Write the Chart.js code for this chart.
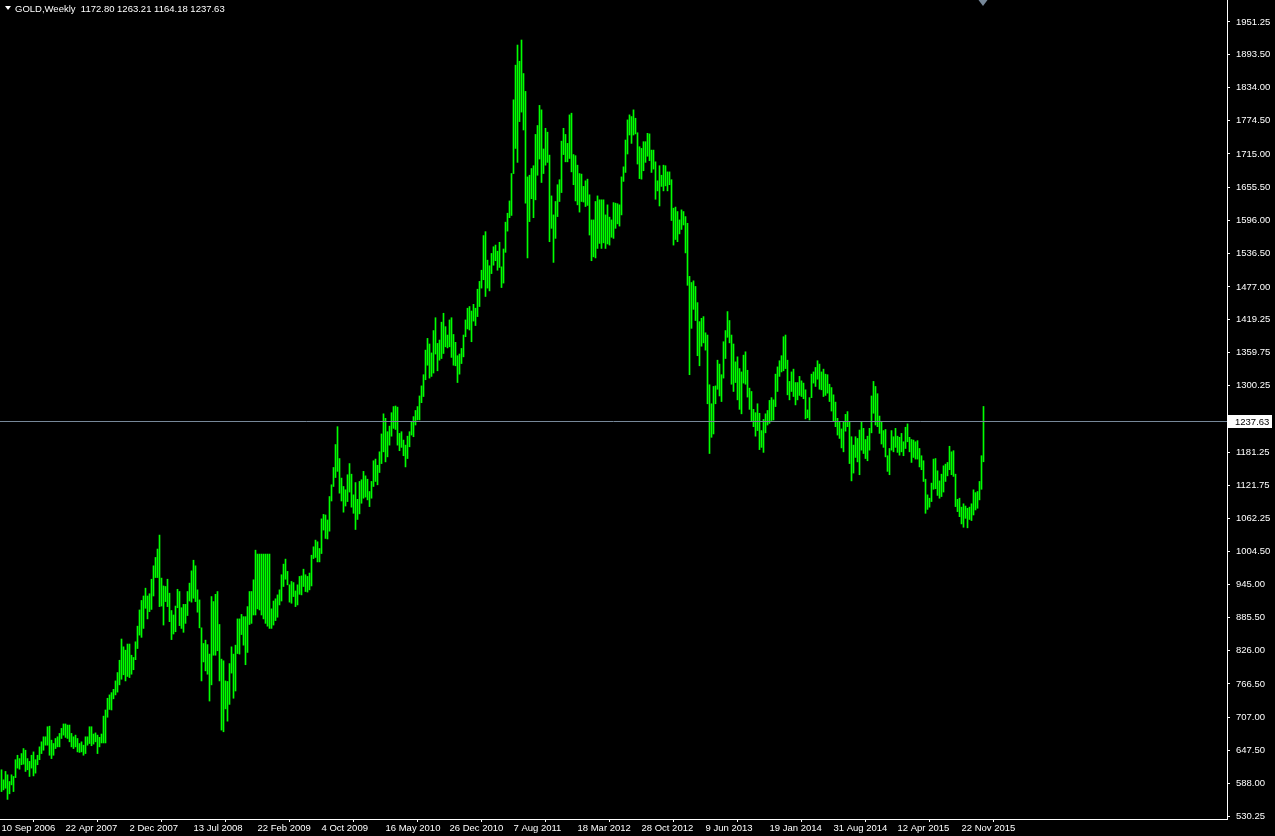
<!DOCTYPE html>
<html>
<head>
<meta charset="utf-8">
<script src="https://cdn.jsdelivr.net/npm/chart.js@4.4.0/dist/chart.umd.min.js"></script>
<style>
  html, body { margin: 0; padding: 0; background: #000; }
  canvas { display: block; }
</style>
</head>
<body>
<canvas id="chart" width="1275" height="836"></canvas>
<script>
const symbolName = "GOLD,Weekly";
// last (current) weekly bar: open, high, low, close
const lastBar = [1172.80, 1263.21, 1164.18, 1237.63];

// weekly highs, one per bar, starting with the week of 10 Sep 2006
const highs = [
  613,595,610,604,592,604,601,631,639,633,
  642,651,648,633,628,639,645,631,639,654,
  663,672,672,690,691,666,660,669,672,678,
  687,695,695,693,693,678,672,675,669,660,
  663,657,672,672,690,690,677,679,675,671,
  677,709,720,741,747,751,757,772,787,809,
  847,833,827,838,838,818,814,842,870,899,
  916,924,938,924,928,954,978,993,1008,1033,
  956,942,941,954,929,898,890,906,936,932,
  903,909,909,932,947,969,988,978,935,917,
  867,839,845,837,820,923,914,927,932,873,
  811,808,772,771,803,833,820,836,883,883,
  891,887,887,905,932,932,953,1006,999,999,
  999,999,999,999,999,901,915,919,926,935,
  962,981,990,968,944,950,948,933,944,959,
  960,972,962,959,965,997,1012,1024,1021,1009,
  1062,1070,1069,1060,1102,1123,1154,1195,1227,1170,
  1135,1120,1114,1141,1161,1142,1105,1127,1097,1129,
  1132,1147,1139,1133,1111,1129,1166,1169,1158,1182,
  1214,1250,1242,1218,1228,1252,1263,1264,1262,1215,
  1218,1203,1194,1210,1218,1236,1245,1256,1263,1282,
  1300,1320,1364,1385,1375,1359,1399,1422,1376,1382,
  1414,1430,1406,1391,1418,1422,1392,1378,1354,1357,
  1367,1391,1418,1439,1442,1434,1446,1439,1473,1487,
  1507,1569,1576,1525,1515,1537,1549,1552,1541,1557,
  1513,1545,1593,1609,1631,1680,1812,1874,1910,1881,
  1919,1859,1827,1674,1677,1689,1694,1750,1766,1802,
  1794,1724,1761,1754,1713,1640,1606,1630,1660,1669,
  1738,1761,1750,1734,1785,1788,1714,1712,1695,1680,
  1679,1657,1667,1670,1642,1597,1597,1630,1640,1633,
  1633,1633,1606,1624,1602,1597,1628,1627,1626,1624,
  1674,1692,1740,1776,1785,1782,1794,1779,1753,1728,
  1725,1737,1737,1752,1751,1722,1722,1701,1667,1694,
  1677,1695,1694,1683,1683,1669,1618,1620,1612,1597,
  1615,1612,1603,1591,1496,1485,1488,1478,1449,1415,
  1421,1424,1395,1391,1302,1268,1299,1300,1346,1339,
  1320,1379,1399,1433,1417,1391,1375,1343,1352,1331,
  1325,1355,1361,1328,1296,1290,1258,1252,1268,1251,
  1220,1240,1250,1256,1274,1279,1275,1321,1334,1345,
  1354,1388,1391,1346,1308,1325,1330,1306,1306,1317,
  1309,1305,1293,1257,1279,1321,1325,1333,1345,1339,
  1325,1330,1321,1320,1303,1297,1284,1271,1242,1235,
  1223,1235,1249,1254,1236,1209,1194,1209,1206,1221,
  1236,1224,1204,1210,1224,1282,1308,1299,1286,1246,
  1236,1220,1222,1175,1188,1220,1209,1224,1210,1208,
  1215,1200,1226,1232,1208,1204,1203,1200,1202,1188,
  1175,1166,1133,1105,1099,1126,1169,1170,1148,1130,
  1142,1157,1160,1163,1192,1182,1184,1142,1097,1099,
  1083,1089,1085,1081,1083,1089,1114,1109,1111,1129,
  1175,1263.21
];

// weekly lows, same weeks
const lows = [
  574,577,580,560,570,586,574,599,616,614,
  622,623,610,613,601,616,602,607,622,631,
  642,648,657,657,639,633,639,651,654,654,
  669,675,671,669,663,654,651,654,645,644,
  645,639,642,657,660,656,659,663,642,654,
  661,661,661,707,721,720,740,747,752,765,
  775,783,772,780,778,784,792,810,830,854,
  850,866,902,883,896,900,924,957,957,905,
  906,872,914,905,878,846,856,860,903,871,
  866,859,875,889,915,913,920,914,895,867,
  772,806,790,784,736,765,818,818,826,772,
  684,681,722,700,730,786,741,754,821,820,
  855,836,801,823,873,875,890,890,901,899,
  890,883,875,870,866,866,872,880,886,908,
  915,941,954,944,913,911,923,905,908,927,
  926,941,932,931,935,942,991,993,985,985,
  1000,1042,1027,1026,1040,1094,1120,1136,1147,1108,
  1094,1074,1085,1093,1110,1083,1072,1043,1061,1071,
  1090,1099,1101,1096,1084,1099,1120,1129,1123,1145,
  1161,1182,1164,1173,1194,1210,1224,1222,1194,1184,
  1190,1175,1155,1170,1191,1212,1209,1230,1239,1239,
  1270,1281,1311,1337,1314,1317,1323,1357,1327,1346,
  1349,1358,1370,1368,1370,1351,1337,1336,1306,1321,
  1340,1352,1388,1402,1400,1379,1416,1408,1424,1442,
  1475,1490,1460,1475,1470,1501,1516,1524,1507,1512,
  1476,1484,1539,1577,1601,1605,1680,1725,1700,1773,
  1790,1758,1627,1529,1594,1635,1601,1633,1677,1706,
  1664,1680,1695,1700,1558,1582,1521,1564,1603,1630,
  1646,1714,1701,1701,1707,1683,1660,1631,1624,1611,
  1630,1629,1621,1623,1570,1524,1531,1529,1546,1555,
  1546,1556,1546,1554,1552,1566,1564,1582,1590,1586,
  1606,1666,1682,1715,1749,1734,1749,1751,1697,1671,
  1670,1685,1700,1711,1703,1682,1688,1634,1649,1622,
  1657,1649,1658,1649,1660,1596,1552,1562,1558,1572,
  1580,1588,1538,1480,1320,1403,1437,1417,1354,1336,
  1371,1377,1364,1268,1179,1208,1214,1268,1294,1282,
  1272,1314,1349,1387,1377,1303,1290,1306,1275,1258,
  1250,1305,1303,1280,1258,1236,1227,1210,1220,1186,
  1190,1181,1216,1230,1233,1238,1239,1263,1290,1317,
  1325,1327,1331,1284,1275,1290,1281,1266,1275,1283,
  1281,1277,1241,1243,1239,1279,1305,1299,1312,1294,
  1293,1281,1283,1287,1272,1255,1237,1227,1212,1206,
  1189,1182,1219,1227,1161,1130,1144,1172,1164,1141,
  1185,1179,1170,1166,1185,1216,1251,1230,1227,1215,
  1196,1190,1173,1147,1141,1185,1182,1190,1181,1176,
  1182,1175,1188,1200,1182,1163,1172,1169,1169,1155,
  1150,1129,1072,1079,1083,1093,1115,1116,1104,1099,
  1102,1110,1129,1139,1150,1141,1138,1084,1075,1066,
  1053,1047,1063,1046,1061,1059,1069,1078,1081,1096,
  1115,1164.18
];

// time axis labels, one every 32 weeks
const dateLabels = [
  "10 Sep 2006", "22 Apr 2007", "2 Dec 2007", "13 Jul 2008", "22 Feb 2009",
  "4 Oct 2009", "16 May 2010", "26 Dec 2010", "7 Aug 2011", "18 Mar 2012",
  "28 Oct 2012", "9 Jun 2013", "19 Jan 2014", "31 Aug 2014", "12 Apr 2015",
  "22 Nov 2015"
];
const weeksPerLabel = 32;

// price axis labels
const priceTicks = [
  1951.25, 1893.50, 1834.00, 1774.50, 1715.00, 1655.50, 1596.00, 1536.50,
  1477.00, 1419.25, 1359.75, 1300.25, 1181.25, 1121.75, 1062.25, 1004.50,
  945.00, 885.50, 826.00, 766.50, 707.00, 647.50, 588.00, 530.25
];

const barColor = '#00ff00';
const fgColor = '#ffffff';
const bidColor = '#778899';
const axisFont = { family: 'Liberation Sans', size: 9.5 };

const mt4Overlay = {
    id: 'mt4Overlay',
    afterDatasetsDraw(chart) {
        const { ctx, chartArea, scales } = chart;
        const yb = Math.round(scales.y.getPixelForValue(lastBar[3])) + 0.5;
        ctx.save();
        ctx.strokeStyle = bidColor;
        ctx.lineWidth = 1;
        ctx.beginPath();
        ctx.moveTo(chartArea.left, yb);
        ctx.lineTo(chartArea.right, yb);
        ctx.stroke();
        ctx.restore();
    },
    afterDraw(chart) {
        const { ctx, chartArea, scales } = chart;
        ctx.save();

        // bid label on the price axis
        const yb = Math.round(scales.y.getPixelForValue(lastBar[3]));
        ctx.fillStyle = fgColor;
        ctx.fillRect(chartArea.right + 1, yb - 6, 44, 13);
        ctx.fillStyle = '#000000';
        ctx.font = '9.5px "Liberation Sans"';
        ctx.textBaseline = 'middle';
        ctx.textAlign = 'left';
        ctx.fillText(lastBar[3].toFixed(2), chartArea.right + 8, yb + 1);

        // header
        ctx.fillStyle = fgColor;
        ctx.beginPath();
        ctx.moveTo(5, 6); ctx.lineTo(11, 6); ctx.lineTo(8, 10); ctx.closePath();
        ctx.fill();
        ctx.font = '9.5px "Liberation Sans"';
        ctx.fillText(symbolName + '  ' + lastBar.map(v => v.toFixed(2)).join(' '), 15, 9);

        // chart shift marker above the last bar
        const xs = Math.round(scales.x.getPixelForValue(highs.length - 1)) - 0.5;
        ctx.fillStyle = bidColor;
        ctx.beginPath();
        ctx.moveTo(xs - 4, 0); ctx.lineTo(xs + 5, 0); ctx.lineTo(xs + 0.5, 6); ctx.closePath();
        ctx.fill();
        ctx.restore();
    }
};

const ctx = document.getElementById('chart').getContext('2d');
new Chart(ctx, {
    type: 'bar',
    data: {
        datasets: [{
            data: highs.map((h, i) => ({ x: i, y: [lows[i], h] })),
            backgroundColor: barColor,
            borderWidth: 0,
            barThickness: 1,
            grouped: false
        }]
    },
    options: {
        responsive: false,
        animation: false,
        devicePixelRatio: 1,
        layout: { padding: 0 },
        plugins: {
            legend: { display: false },
            tooltip: { enabled: false }
        },
        scales: {
            x: {
                type: 'linear',
                min: -0.75,
                max: 612.75,
                offset: false,
                afterBuildTicks: (scale) => {
                    scale.ticks = dateLabels.map((_, k) => ({ value: k * weeksPerLabel }));
                },
                afterFit: (scale) => {
                    scale.height = 17;
                    scale.paddingLeft = 0;
                    scale.paddingRight = 0;
                },
                grid: { drawOnChartArea: false, drawTicks: true, tickLength: 3, color: fgColor },
                border: { display: true, color: fgColor },
                ticks: {
                    color: fgColor,
                    font: axisFont,
                    align: 'start',
                    padding: 1,
                    maxRotation: 0,
                    autoSkip: false,
                    callback: (v) => dateLabels[Math.round(v / weeksPerLabel)]
                }
            },
            y: {
                position: 'right',
                min: 524.9,
                max: 1990.6,
                afterBuildTicks: (scale) => {
                    scale.ticks = priceTicks.map(v => ({ value: v }));
                },
                afterFit: (scale) => {
                    scale.width = 48;
                    scale.paddingTop = 0;
                    scale.paddingBottom = 0;
                },
                grid: { drawOnChartArea: false, drawTicks: true, tickLength: 3, color: fgColor },
                border: { display: true, color: fgColor },
                ticks: {
                    color: fgColor,
                    font: axisFont,
                    padding: 6,
                    autoSkip: false,
                    callback: (v) => v.toFixed(2)
                }
            }
        }
    },
    plugins: [mt4Overlay]
});
</script>
</body>
</html>
